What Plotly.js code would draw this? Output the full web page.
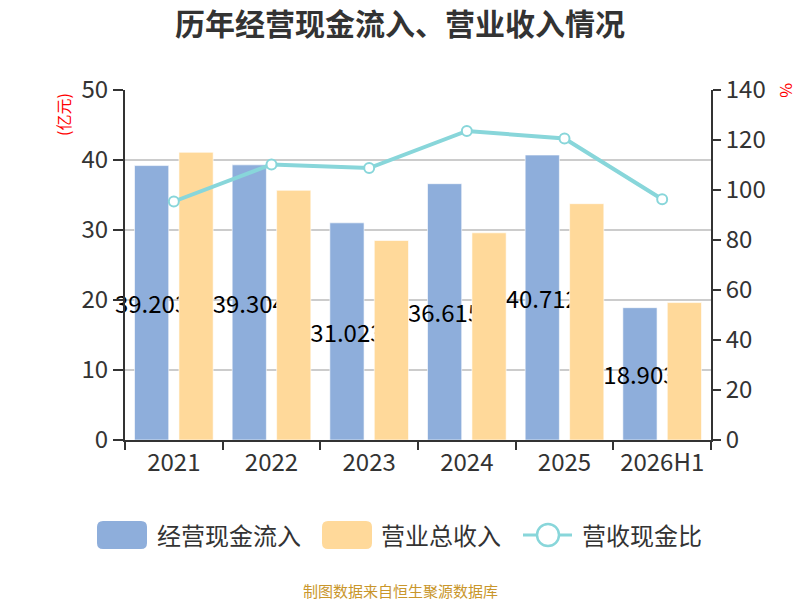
<!DOCTYPE html>
<html>
<head>
<meta charset="utf-8">
<script src="https://cdn.plot.ly/plotly-3.0.1.min.js"></script>
<style>
  html, body { margin: 0; padding: 0; background: #fff; }
  #chart { width: 800px; height: 600px; }
</style>
</head>
<body>
<div id="chart"></div>
<script>
// data
const years = ["2021", "2022", "2023", "2024", "2025", "2026H1"];
const cashInflow = [39.203, 39.304, 31.023, 36.615, 40.712, 18.903];   // 经营现金流入 (亿元)
const revenue = [41.1, 35.67, 28.5, 29.6, 33.76, 19.63];               // 营业总收入 (亿元)
const ratio = [95.4, 110.2, 108.8, 123.6, 120.6, 96.3];                // 营收现金比 (%)
const cashLabels = ["39.203", "39.304", "31.023", "36.615", "40.712", "18.903"];
const seriesNames = ["经营现金流入", "营业总收入", "营收现金比"];

const FONT = '"Noto Sans CJK SC", "Noto Sans", sans-serif';
const BLUE = "#8eaedb";
const ORANGE = "#ffd99a";
const TEAL = "#88d6da";

// plot area in pixels: x 125..711, y 90..440
const M = { l: 125, r: 89, t: 90, b: 160 };
const PW = 800 - M.l - M.r;
const PH = 600 - M.t - M.b;
const px = v => (v - M.l) / PW;
const py = v => (600 - M.b - v) / PH;

function roundRect(x0, y0, x1, y1, r) {
    const X = px, Y = py;
    return "M" + X(x0 + r) + "," + Y(y0) +
        " L" + X(x1 - r) + "," + Y(y0) + " Q" + X(x1) + "," + Y(y0) + " " + X(x1) + "," + Y(y0 + r) +
        " L" + X(x1) + "," + Y(y1 - r) + " Q" + X(x1) + "," + Y(y1) + " " + X(x1 - r) + "," + Y(y1) +
        " L" + X(x0 + r) + "," + Y(y1) + " Q" + X(x0) + "," + Y(y1) + " " + X(x0) + "," + Y(y1 - r) +
        " L" + X(x0) + "," + Y(y0 + r) + " Q" + X(x0) + "," + Y(y0) + " " + X(x0 + r) + "," + Y(y0) + " Z";
}

const traceCash = {
    x: years,
    y: cashInflow,
    name: seriesNames[0],
    type: "bar",
    marker: { color: BLUE, line: { color: "rgba(255,255,255,0.6)", width: 1 } },
    text: cashLabels,
    textposition: "inside",
    insidetextanchor: "middle",
    textangle: 0,
    constraintext: "none",
    cliponaxis: false,
    insidetextfont: { color: "#000", size: 24, family: FONT },
    hoverinfo: "skip"
};

const traceRevenue = {
    x: years,
    y: revenue,
    name: seriesNames[1],
    type: "bar",
    marker: { color: ORANGE, line: { color: "rgba(255,255,255,0.6)", width: 1 } },
    hoverinfo: "skip"
};

const traceRatio = {
    x: years,
    y: ratio,
    name: seriesNames[2],
    type: "scatter",
    mode: "lines+markers",
    yaxis: "y2",
    line: { color: TEAL, width: 4 },
    marker: { symbol: "circle", size: 10, color: "#fff", line: { color: TEAL, width: 2 } },
    cliponaxis: false,
    hoverinfo: "skip"
};

// legend drawn by hand to get the large rounded swatches
const legendShapes = [
    { type: "path", xref: "paper", yref: "paper", path: roundRect(97, 521, 147, 549, 6), fillcolor: BLUE, line: { width: 0 } },
    { type: "path", xref: "paper", yref: "paper", path: roundRect(322, 521, 372, 549, 6), fillcolor: ORANGE, line: { width: 0 } },
    { type: "line", xref: "paper", yref: "paper", x0: px(523), x1: px(572), y0: py(535), y1: py(535), line: { color: TEAL, width: 3 } },
    { type: "circle", xref: "paper", yref: "paper", x0: px(537), x1: px(559), y0: py(524), y1: py(546), fillcolor: "#fff", line: { color: TEAL, width: 2.5 } }
];

const legendTexts = [
    { text: seriesNames[0], x: px(155), y: py(534) },
    { text: seriesNames[1], x: px(379), y: py(534) },
    { text: seriesNames[2], x: px(580), y: py(534) }
].map(a => Object.assign(a, {
    xref: "paper", yref: "paper", xanchor: "left", yanchor: "middle",
    showarrow: false, font: { size: 24, color: "#333" }
}));

const tickFont = { size: 24, color: "#333" };

const layout = {
    width: 800,
    height: 600,
    font: { family: FONT, color: "#333", size: 22 },
    paper_bgcolor: "#fff",
    plot_bgcolor: "#fff",
    showlegend: false,
    title: {
        text: "历年经营现金流入、营业收入情况",
        font: { size: 30, color: "#333", weight: "bold", family: FONT },
        x: 0.5, xanchor: "center",
        y: 1 - 24 / 600, yref: "container", yanchor: "middle"
    },
    margin: M,
    barmode: "group",
    bargap: 0.09,
    bargroupgap: 0.23,
    xaxis: {
        type: "category",
        tickson: "boundaries",
        ticks: "outside",
        ticklen: 8,
        tickwidth: 2,
        tickcolor: "#333",
        showline: true,
        linecolor: "#333",
        linewidth: 2,
        showgrid: false,
        tickfont: tickFont
    },
    yaxis: {
        range: [0, 50],
        dtick: 10,
        ticks: "outside",
        ticklen: 10,
        tickwidth: 2,
        tickcolor: "#333",
        showline: true,
        linecolor: "#333",
        linewidth: 2,
        showgrid: true,
        gridcolor: "#cccccc",
        gridwidth: 2,
        zeroline: false,
        tickfont: tickFont
    },
    yaxis2: {
        overlaying: "y",
        side: "right",
        range: [0, 140],
        dtick: 20,
        ticks: "outside",
        ticklen: 8,
        tickwidth: 2,
        tickcolor: "#333",
        showline: true,
        linecolor: "#333",
        linewidth: 2,
        showgrid: false,
        zeroline: false,
        tickfont: tickFont
    },
    shapes: legendShapes,
    annotations: [
        {
            text: "(亿元)", xref: "paper", yref: "paper",
            x: px(63), y: py(115), xanchor: "center", yanchor: "middle",
            textangle: -90, showarrow: false,
            font: { size: 16, color: "#ff0000" }
        },
        {
            text: "%", xref: "paper", yref: "paper",
            x: px(787), y: py(90), xanchor: "center", yanchor: "middle",
            textangle: 90, showarrow: false,
            font: { size: 16, color: "#ff0000" }
        },
        {
            text: "制图数据来自恒生聚源数据库", xref: "paper", yref: "paper",
            x: px(400), y: py(590), xanchor: "center", yanchor: "middle",
            showarrow: false,
            font: { size: 15, color: "#c9962b" }
        }
    ].concat(legendTexts)
};

Plotly.newPlot("chart", [traceCash, traceRevenue, traceRatio], layout, { displayModeBar: false, staticPlot: true });
</script>
</body>
</html>
